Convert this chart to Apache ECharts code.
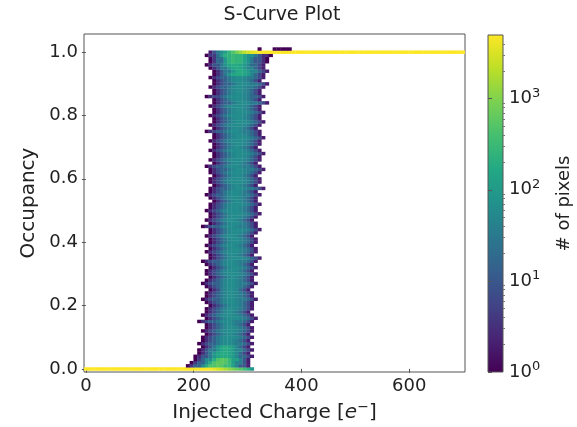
<!DOCTYPE html>
<html>
<head>
<meta charset="utf-8">
<title>S-Curve Plot</title>
<script src="https://cdn.jsdelivr.net/npm/echarts@6/dist/echarts.min.js"></script>
<style>
	html, body { margin: 0; padding: 0; background: #fff; }
	#main { width: 577px; height: 427px; }
</style>
</head>
<body>
<div id="main"></div>
<script>
// 分箱 (bins)
var xBinWidth = 7;        // injected charge bin, e-
var yBinWidth = 0.01;     // occupancy bin
var totalPixels = 5000;   // top of the colour bar

// 刻度
var xTicks = [0, 200, 400, 600];
var yTicks = [0, 0.2, 0.4, 0.6, 0.8, 1.0];
var cbarTicks = [1, 10, 100, 1000];
var cbarMinorTicks = [2, 3, 4, 5, 6, 7, 8, 9, 20, 30, 40, 50, 60, 70, 80, 90,
	200, 300, 400, 500, 600, 700, 800, 900, 2000, 3000, 4000];

// 每一行 (occupancy 0.01 .. 0.99) 最左 / 最右的 charge bin
var rowLeft = [
	27, 28, 29, 29, 30, 30, 31, 30, 31, 31,
	32, 31, 32, 32, 30, 32, 31, 32, 32, 33,
	32, 31, 32, 32, 33, 32, 31, 32, 33, 32,
	32, 33, 32, 31, 33, 33, 32, 33, 32, 33,
	33, 32, 33, 33, 31, 33, 32, 33, 33, 32,
	33, 33, 34, 33, 32, 33, 33, 34, 33, 33,
	34, 33, 33, 32, 34, 33, 34, 34, 33, 34,
	34, 33, 34, 34, 32, 34, 33, 34, 34, 33,
	34, 34, 33, 34, 34, 32, 34, 34, 33, 34,
	34, 33, 34, 34, 33, 32, 33, 33, 32
];
var rowRight = [
	43, 43, 43, 44, 43, 44, 43, 44, 43, 44,
	43, 44, 44, 43, 44, 45, 44, 43, 44, 44,
	44, 45, 44, 44, 43, 44, 45, 44, 44, 45,
	44, 45, 44, 45, 46, 44, 45, 45, 44, 45,
	45, 44, 45, 46, 45, 45, 44, 45, 46, 45,
	45, 46, 45, 45, 46, 45, 47, 45, 46, 46,
	45, 46, 47, 46, 45, 46, 46, 47, 46, 45,
	46, 46, 47, 46, 46, 45, 46, 47, 46, 46,
	47, 46, 46, 48, 46, 47, 46, 46, 47, 48,
	46, 47, 47, 48, 47, 47, 48, 48, 49
];

// 行内计数 (从左到右)
var profileMid = [1, 3, 7, 15, 30, 50, 60, 60, 50, 35, 18, 7, 2];
var profileNear = [1, 3, 10, 30, 80, 150, 180, 150, 100, 50, 18, 6, 2];
var profileBottom = [1, 4, 15, 60, 200, 450, 600, 500, 300, 120, 40, 10, 2];
var profileTop = [1, 4, 20, 90, 220, 300, 250, 150, 70, 30, 10, 3, 1];
var bottomRows = [1, 2, 3];
var topRows = [97, 98, 99];
var nearRows = [4, 5, 6, 7, 93, 94, 95, 96];

// occupancy = 0: 全部像素直到 bin 32, 然后逐渐减少
var row0TailStart = 33;
var row0Tail = [4400, 3800, 3000, 2300, 1700, 1200, 900, 700, 500, 350, 220, 90];
// occupancy = 1: 从 bin 33 开始增加, 之后全部像素直到 bin 100
var row100HeadStart = 33;
var row100Head = [2, 8, 30, 60, 120, 250, 450, 800, 1300, 2000, 2800, 3600, 4200];
var lastBin = 100;
// occupancy = 1.01 上的零星像素
var row101Bins = [46, 50, 51, 52, 53, 54];

// viridis
var viridis = ['#440154', '#482475', '#414487', '#355f8d', '#2a788e', '#21918c',
	'#22a884', '#44bf70', '#7ad151', '#bddf26', '#fde725'];

var SCurve = {

	init: function () {
		this.chart = echarts.init(document.getElementById('main'));
		this.renderChart(this.getData());
	},

	// 生成每个格子 [charge, occupancy, log10(count), count]
	getData: function () {
		var cells = [];
		var pushCell = function (bin, row, count) {
			cells.push([bin * xBinWidth, +(row * yBinWidth).toFixed(2), Math.log10(count), count]);
		};
		var i, r, c;

		// 第 0 行
		for (c = 0; c < row0TailStart; c++) {
			pushCell(c, 0, totalPixels);
		}
		for (i = 0; i < row0Tail.length; i++) {
			pushCell(row0TailStart + i, 0, row0Tail[i]);
		}

		// 中间的行
		for (r = 1; r <= rowLeft.length; r++) {
			var prof = profileMid;
			if (bottomRows.indexOf(r) > -1) prof = profileBottom;
			else if (topRows.indexOf(r) > -1) prof = profileTop;
			else if (nearRows.indexOf(r) > -1) prof = profileNear;
			var L = rowLeft[r - 1], R = rowRight[r - 1];
			for (c = L; c <= R; c++) {
				var k = Math.round((c - L) / (R - L) * (prof.length - 1));
				pushCell(c, r, prof[k]);
			}
		}

		// 第 100 行
		for (i = 0; i < row100Head.length; i++) {
			pushCell(row100HeadStart + i, 100, row100Head[i]);
		}
		for (c = row100HeadStart + row100Head.length; c <= lastBin; c++) {
			pushCell(c, 100, totalPixels);
		}

		// 第 101 行
		for (i = 0; i < row101Bins.length; i++) {
			pushCell(row101Bins[i], 101, 1);
		}
		return cells;
	},

	renderChart: function (cells) {
		var font = 'DejaVu Sans';
		var halfX = xBinWidth / 2, halfY = yBinWidth / 2;
		var sup = {
			b: { fontSize: 18, fontFamily: font, color: '#222', lineHeight: 24 },
			s: { fontSize: 13, fontFamily: font, color: '#222', verticalAlign: 'top', lineHeight: 14 }
		};

		var option = {
			animation: false,
			backgroundColor: '#fff',
			title: {
				text: 'S-Curve Plot',
				left: 277,
				top: 1,
				textAlign: 'center',
				textStyle: { fontSize: 19, fontWeight: 'normal', color: '#222', fontFamily: font }
			},
			grid: [
				{ left: 84, top: 34, width: 381, height: 338, show: true, borderColor: '#555', borderWidth: 1, outerBoundsMode: 'none' },
				{ left: 488, top: 35, width: 15, height: 337, outerBoundsMode: 'none' }
			],
			xAxis: [
				{
					type: 'value', gridIndex: 0, min: -3.5, max: 703.5,
					name: 'Injected Charge [{i|e}{s|−}]',
					nameLocation: 'middle', nameGap: 26,
					nameTextStyle: {
						fontSize: 20, color: '#222', fontFamily: font,
						rich: {
							i: { fontSize: 20, fontStyle: 'italic', fontFamily: font, color: '#222', lineHeight: 25 },
							s: { fontSize: 14, fontFamily: font, color: '#222', verticalAlign: 'top', lineHeight: 14 }
						}
					},
					splitLine: { show: false },
					axisLine: { show: false },
					axisTick: { show: true, length: 4, customValues: xTicks, lineStyle: { color: '#555' } },
					axisLabel: { customValues: xTicks, fontSize: 18, color: '#222', fontFamily: font, margin: 5 }
				},
				{ type: 'value', gridIndex: 1, show: false, min: 0, max: 1 }
			],
			yAxis: [
				{
					type: 'value', gridIndex: 0, min: -0.01, max: 1.057,
					name: 'Occupancy',
					nameLocation: 'middle', nameGap: 42, nameRotate: 90,
					nameTextStyle: { fontSize: 20, color: '#222', fontFamily: font },
					splitLine: { show: false },
					axisLine: { show: false },
					axisTick: { show: true, length: 4, customValues: yTicks, lineStyle: { color: '#555' } },
					axisLabel: {
						customValues: yTicks, fontSize: 18, color: '#222', fontFamily: font, margin: 6,
						formatter: function (v) { return v.toFixed(1); }
					}
				},
				// colour bar 主刻度
				{
					type: 'log', gridIndex: 1, position: 'right', min: 1, max: totalPixels,
					name: '# of pixels',
					nameLocation: 'middle', nameGap: 52, nameRotate: 90,
					nameTextStyle: { fontSize: 18, color: '#222', fontFamily: font },
					splitLine: { show: false },
					axisLine: { show: false },
					axisTick: { show: true, length: 4, customValues: cbarTicks, lineStyle: { color: '#555' } },
					axisLabel: {
						customValues: cbarTicks, margin: 6, rich: sup,
						formatter: function (v) { return '{b|10}{s|' + Math.round(Math.log10(v)) + '}'; }
					}
				},
				// colour bar 次刻度
				{
					type: 'log', gridIndex: 1, position: 'right', min: 1, max: totalPixels,
					splitLine: { show: false },
					axisLine: { show: false },
					axisTick: { show: true, length: 2, customValues: cbarMinorTicks, lineStyle: { color: '#777' } },
					axisLabel: { show: false }
				}
			],
			visualMap: {
				type: 'continuous',
				show: false,
				seriesIndex: 0,
				dimension: 2,
				min: 0,
				max: Math.log10(totalPixels),
				inRange: { color: viridis }
			},
			graphic: [{
				type: 'rect',
				z: 0,
				shape: { x: 488, y: 35, width: 15, height: 337 },
				style: {
					fill: new echarts.graphic.LinearGradient(0, 1, 0, 0, viridis.map(function (col, i) {
						return { offset: i / (viridis.length - 1), color: col };
					})),
					stroke: '#555',
					lineWidth: 1
				}
			}],
			series: [{
				type: 'custom',
				xAxisIndex: 0,
				yAxisIndex: 0,
				clip: true,
				encode: { x: 0, y: 1 },
				data: cells,
				renderItem: function (params, api) {
					var x = api.value(0), y = api.value(1);
					var p0 = api.coord([x - halfX, y + halfY]);
					var p1 = api.coord([x + halfX, y - halfY]);
					// 稍微重叠, 只留下淡淡的格线
					return {
						type: 'rect',
						shape: { x: p0[0], y: p0[1], width: p1[0] - p0[0] + 0.3, height: p1[1] - p0[1] + 0.3 },
						style: { fill: api.visual('color') }
					};
				}
			}]
		};

		this.chart.setOption(option);
	}
};

SCurve.init();
</script>
</body>
</html>
